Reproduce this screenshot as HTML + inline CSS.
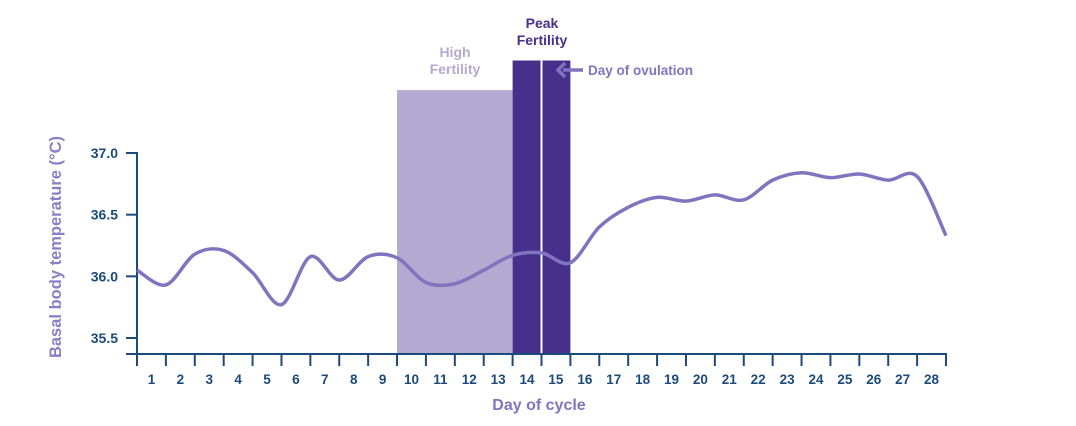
<!DOCTYPE html>
<html><head><meta charset="utf-8">
<style>
html,body{margin:0;padding:0;background:#fff;}
svg{display:block;font-family:"Liberation Sans",sans-serif;font-weight:bold;}
</style></head>
<body>
<svg id="chart" width="1076" height="426" viewBox="0 0 1076 426">
  <g id="bands"></g>
  <g id="axes"></g>
  <g id="series"></g>
  <text x="455" y="57" text-anchor="middle" font-size="14" fill="#b3aad2">High</text>
  <text x="455" y="74" text-anchor="middle" font-size="14" fill="#b3aad2">Fertility</text>
  <text x="542" y="28" text-anchor="middle" font-size="14" fill="#472f8c">Peak</text>
  <text x="542" y="45" text-anchor="middle" font-size="14" fill="#472f8c">Fertility</text>
  <g>
    <line x1="563" y1="70" x2="583" y2="70" stroke="#8174bf" stroke-width="3.5"/>
    <polyline points="565,63 558,70 565,77" fill="none" stroke="#8174bf" stroke-width="3.5"/>
  </g>
  <text x="588" y="75" font-size="13.5" fill="#8174bf">Day of ovulation</text>
  <text x="539" y="410" text-anchor="middle" font-size="16" fill="#8174bf">Day of cycle</text>
  <text transform="translate(61,247) rotate(-90)" text-anchor="middle" font-size="16.5" fill="#8a7fc5">Basal body temperature (°C)</text>
</svg>
<script>
const days = [1,2,3,4,5,6,7,8,9,10,11,12,13,14,15,16,17,18,19,20,21,22,23,24,25,26,27,28];
const temps = [36.05,35.93,36.18,36.21,36.03,35.77,36.16,35.97,36.16,36.15,35.95,35.94,36.05,36.17,36.19,36.11,36.40,36.56,36.64,36.61,36.66,36.62,36.78,36.84,36.80,36.83,36.78,36.81,36.33];
const yTicks = [35.5,36.0,36.5,37.0];
const yTickLabels = ["35.5","36.0","36.5","37.0"];
const highFertility = [10,13];
const peakFertility = [14,15];
const highTop = 37.51;
const peakTop = 37.75;

const NS="http://www.w3.org/2000/svg";
const x0=137, x1=946, yBase=354;
function xs(k){return x0+(x1-x0)*k/28;}
function ys(v){return 153+(37-v)/1.5*185;}
function mk(tag,attrs,parent){const e=document.createElementNS(NS,tag);for(const k in attrs)e.setAttribute(k,attrs[k]);parent.appendChild(e);return e;}

const bands=document.getElementById('bands');
let r=mk('rect',{x:xs(highFertility[0]-1),y:ys(highTop),width:xs(highFertility[1])-xs(highFertility[0]-1),height:yBase-ys(highTop),fill:'#b3aad2'},bands);


peakFertility.forEach(function(d){
  const rr=mk('rect',{x:xs(d-1)+(d===peakFertility[1]?1:0),y:ys(peakTop),width:xs(d)-xs(d-1)-1,height:yBase-ys(peakTop),fill:'#472f8c'},bands);
  
  
});

const axes=document.getElementById('axes');
const ax='#1b4a7c';
mk('line',{x1:x0,y1:ys(37)-1,x2:x0,y2:yBase,stroke:ax,'stroke-width':2},axes);
mk('line',{x1:126,y1:yBase,x2:x1+1,y2:yBase,stroke:ax,'stroke-width':2},axes);
yTicks.forEach(function(v,i){
  const y=ys(v);
  mk('line',{x1:126,y1:y,x2:x0,y2:y,stroke:ax,'stroke-width':2},axes);
  const t=mk('text',{x:118,y:y+5,'text-anchor':'end','font-size':14,fill:ax},axes);
  t.textContent=yTickLabels[i];
  
  
});
for(let k=0;k<=28;k++){mk('line',{x1:xs(k),y1:yBase,x2:xs(k),y2:366,stroke:ax,'stroke-width':2},axes);}
days.forEach(function(d){
  const t=mk('text',{x:(xs(d-1)+xs(d))/2,y:384,'text-anchor':'middle','font-size':13.5,fill:ax},axes);
  t.textContent=String(d);
  
  
});

const pts=temps.map(function(v,k){return [xs(k),ys(v)];});
let d='M'+pts[0][0]+','+pts[0][1];
for(let i=0;i<pts.length-1;i++){
  const p0=pts[Math.max(0,i-1)],p1=pts[i],p2=pts[i+1],p3=pts[Math.min(pts.length-1,i+2)];
  const t=0.16;
  d+=' C'+(p1[0]+(p2[0]-p0[0])*t)+','+(p1[1]+(p2[1]-p0[1])*t)+' '+(p2[0]-(p3[0]-p1[0])*t)+','+(p2[1]-(p3[1]-p1[1])*t)+' '+p2[0]+','+p2[1];
}
const line=mk('path',{d:d,fill:'none',stroke:'#8174bf','stroke-width':3.5,'stroke-linejoin':'round'},document.getElementById('series'));


</script>
</body></html>
